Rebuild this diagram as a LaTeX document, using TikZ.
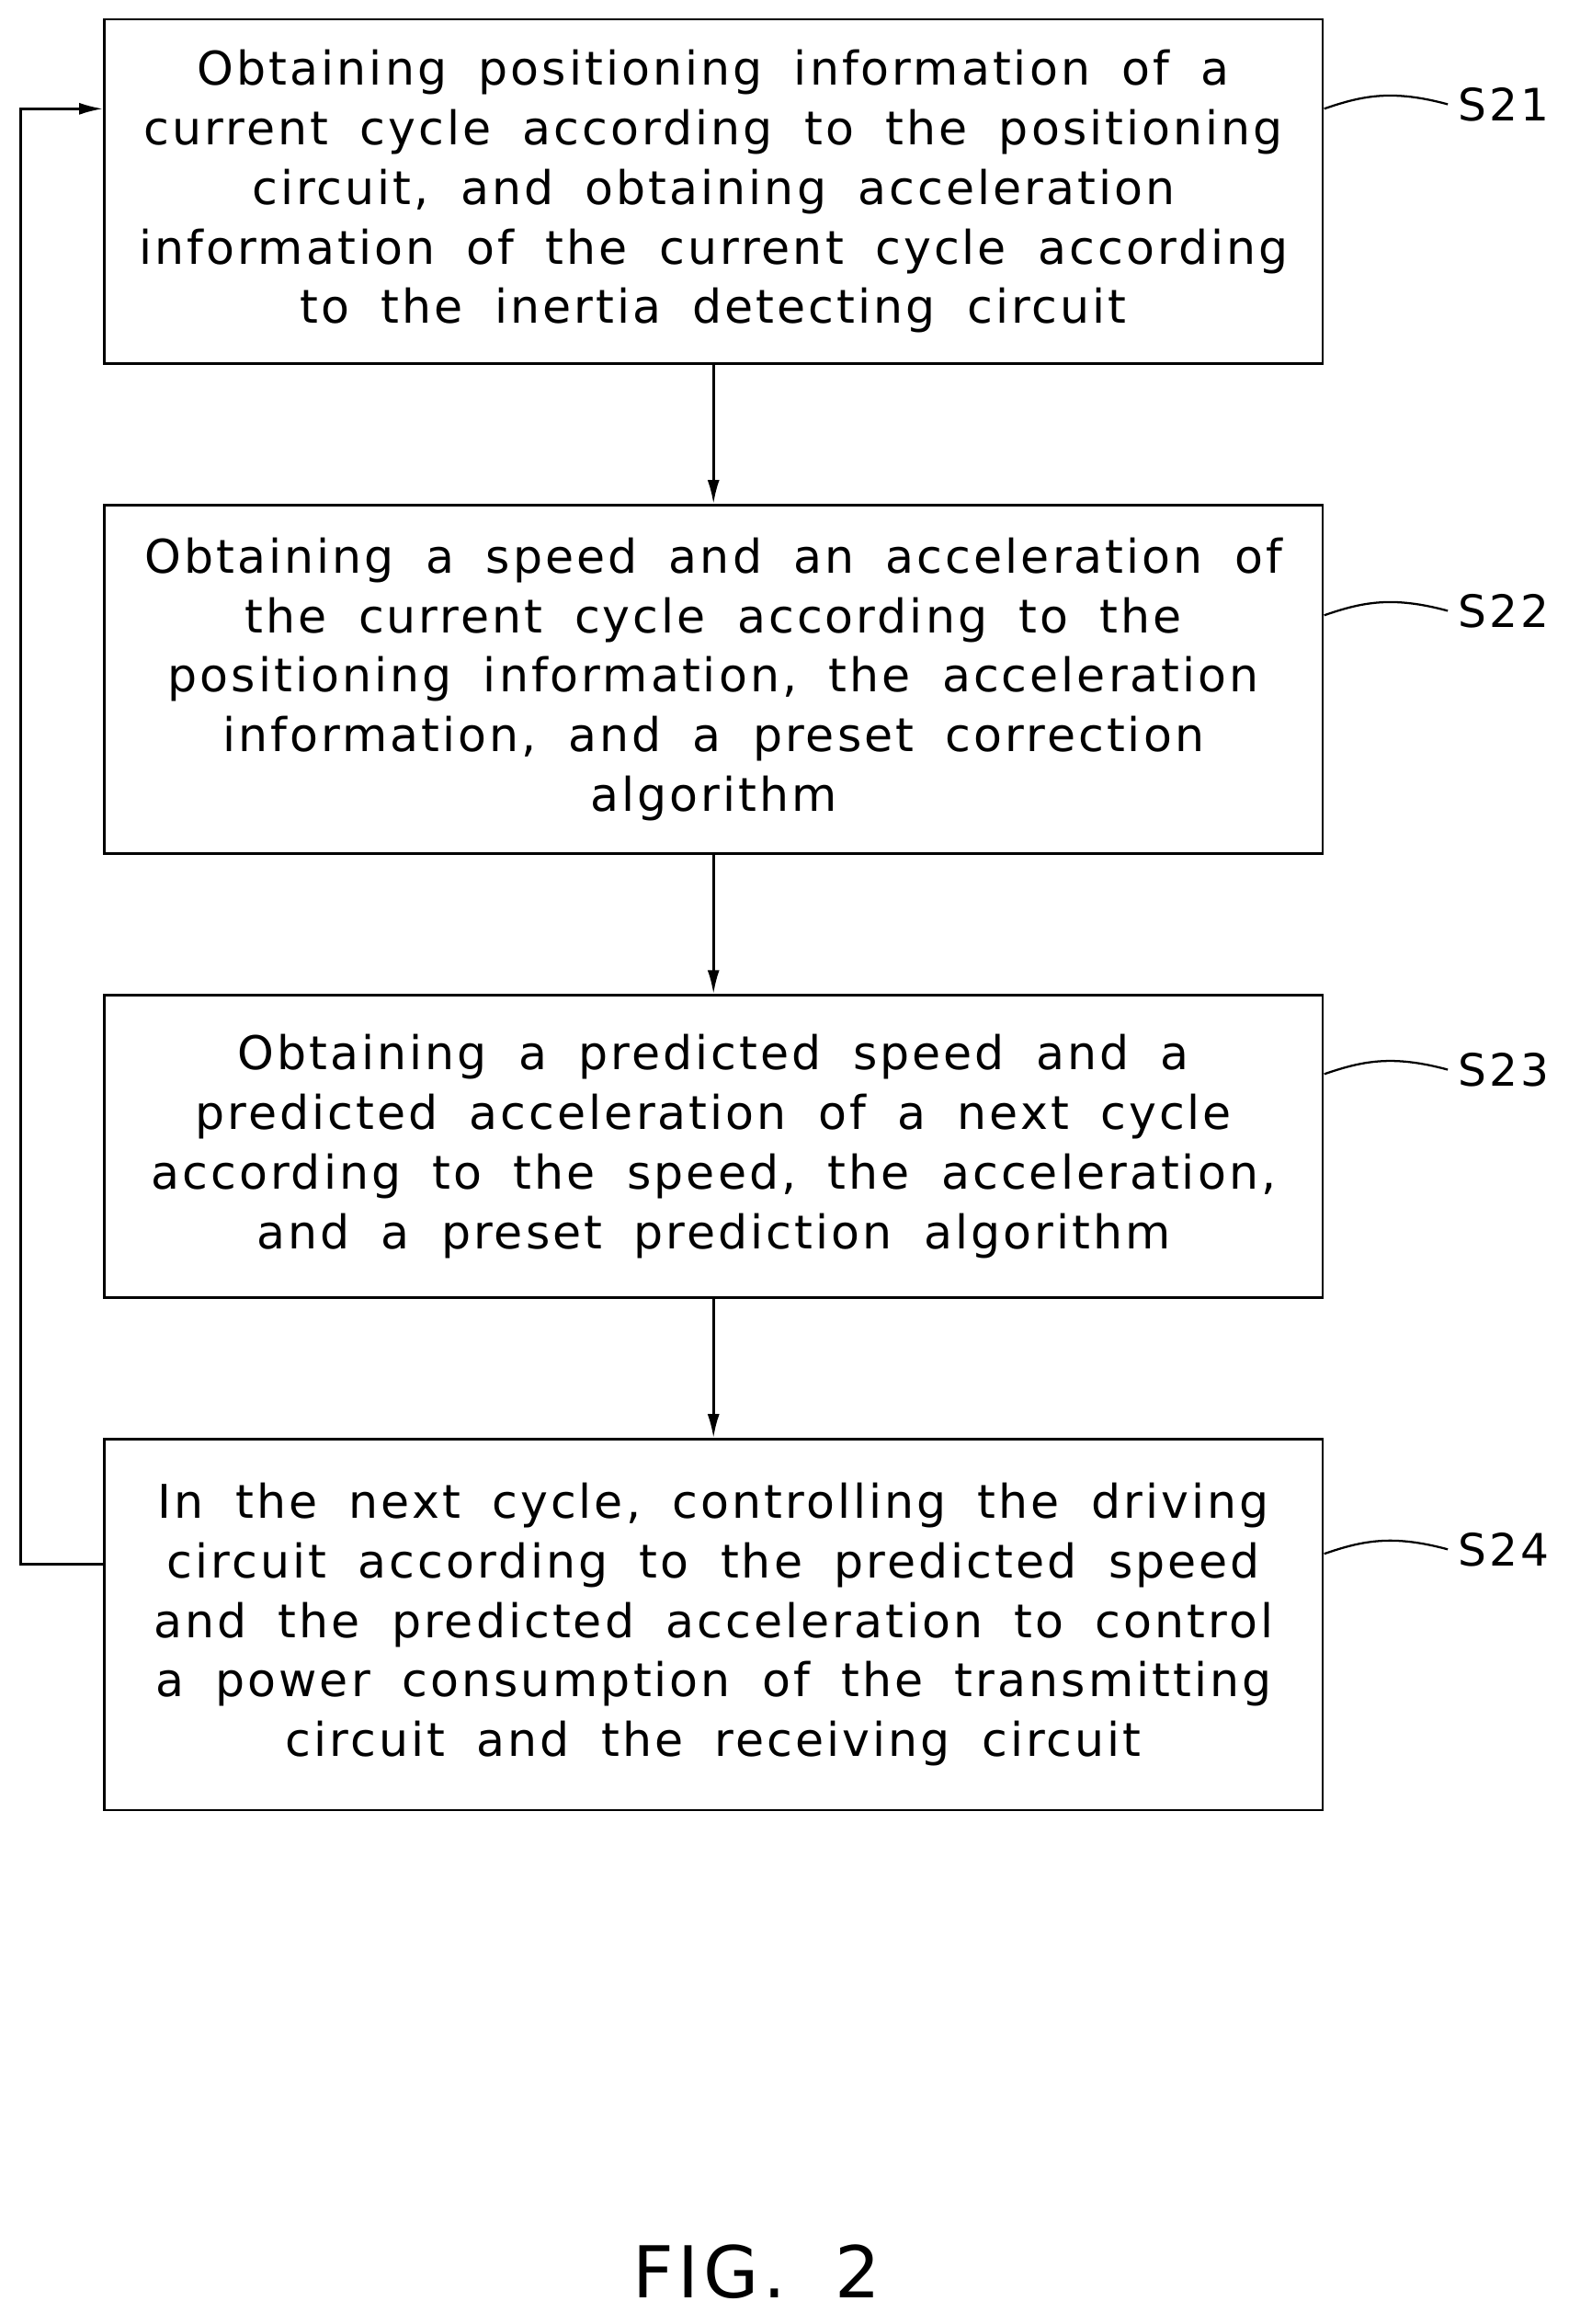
\documentclass[tikz,border=0pt]{standalone}
\usepackage{fontspec}
\usetikzlibrary{arrows.meta}
\newfontfamily\cadfont[LetterSpace=6,WordSpace=1.8]{DejaVu Sans}
\begin{document}
\begin{tikzpicture}[x=0.5pt,y=-0.5pt,
  box/.style={draw,line width=0.8pt,minimum width=409pt,align=center,font=\cadfont\fontsize{15.6}{20}\selectfont,inner sep=0pt},
  lab/.style={font=\cadfont\fontsize{15}{18}\selectfont,anchor=west},
  arr/.style={line width=0.8pt,-{Latex[length=8pt,width=4pt]}}]
\useasboundingbox (0,0) rectangle (1053,1560);
\node[box,minimum height=115.5pt] (b1) at (479,128.5) {Obtaining positioning information of a\\current cycle according to the positioning\\circuit, and obtaining acceleration\\information of the current cycle according\\to the inertia detecting circuit};
\node[box,minimum height=117pt] (b2) at (479,456) {Obtaining a speed and an acceleration of\\the current cycle according to the\\positioning information, the acceleration\\information, and a preset correction\\algorithm};
\node[box,minimum height=101.5pt] (b3) at (479,769.5) {Obtaining a predicted speed and a\\predicted acceleration of a next cycle\\according to the speed, the acceleration,\\and a preset prediction algorithm};
\node[box,minimum height=124.5pt] (b4) at (479,1090.5) {In the next cycle, controlling the driving\\circuit according to the predicted speed\\and the predicted acceleration to control\\a power consumption of the transmitting\\circuit and the receiving circuit};
\draw[arr] (b1.south) -- (b2.north);
\draw[arr] (b2.south) -- (b3.north);
\draw[arr] (b3.south) -- (b4.north);
\coordinate (c1) at (14,1050);
\coordinate (c2) at (14,73);
\draw[arr] (b4.west |- c1) -- (c1) -- (c2) -- (b1.west |- c2);
\foreach \n/\y in {1/70,2/410,3/718,4/1040}{
  \node[lab] (s\n) at (972,\y) {S2\n};
  \draw[line width=0.7pt] (889,\y+3) .. controls (915,\y-6) and (935,\y-10) .. (s\n.west);
}
\node[font=\cadfont\fontsize{24}{24}\selectfont] (fig) at (508,1525) {FIG. 2};
\end{tikzpicture}
\end{document}
